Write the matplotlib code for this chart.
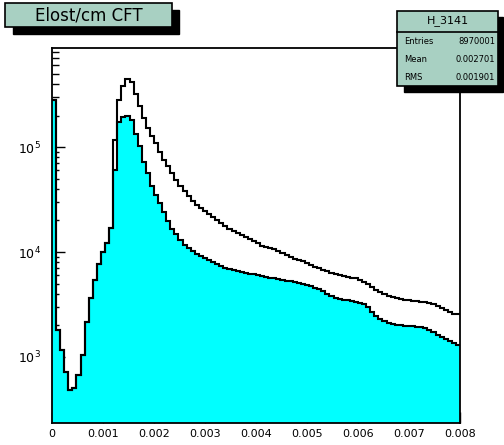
import numpy as np
import matplotlib
matplotlib.use('Agg')
from matplotlib import pyplot as plt
from matplotlib.patches import Rectangle

# histogram content, 100 bins on [0, 0.008]
x_min, x_max, n_bins = 0.0, 0.008, 100

h_all = [
    280000, 1810, 1170, 720, 485, 507, 674, 1045, 2150, 3650,
    5410, 7690, 10000, 12190, 16940, 116600, 280500, 381000, 444600, 415500,
    320000, 245700, 188900, 151700, 127300, 109200, 89600, 75200, 65900, 56500,
    48500, 42500, 38100, 34100, 30600, 28000, 26200, 24550, 23000, 21540,
    20180, 18900, 17700, 16560, 15850, 15170, 14520, 13900, 13300, 12740,
    12190, 11400, 11160, 10920, 10680, 10230, 9780, 9360, 8960, 8570,
    8390, 8200, 7850, 7520, 7200, 7050, 6740, 6590, 6310, 6170,
    6040, 5910, 5780, 5650, 5650, 5410, 5180, 4960, 4640, 4350,
    4160, 3980, 3810, 3720, 3650, 3570, 3490, 3490, 3410, 3410,
    3340, 3340, 3270, 3200, 3060, 2930, 2810, 2690, 2570, 2570,
]

h_cut = [
    280000, 1810, 1170, 720, 485, 507, 674, 1045, 2150, 3650,
    5410, 7690, 10000, 12190, 16940, 60400, 173000, 193000, 197400, 180700,
    133000, 102300, 72000, 56500, 42500, 34900, 29300, 24040, 19730, 16560,
    14830, 13000, 11660, 10920, 10230, 9570, 9160, 8770, 8390, 8030,
    7690, 7360, 7050, 6890, 6740, 6590, 6450, 6310, 6170, 6170,
    6040, 5910, 5780, 5650, 5650, 5530, 5410, 5290, 5290, 5180,
    5070, 4960, 4850, 4750, 4540, 4440, 4250, 3980, 3810, 3650,
    3570, 3490, 3490, 3410, 3340, 3270, 3200, 2990, 2690, 2460,
    2300, 2200, 2110, 2060, 2020, 2020, 1970, 1970, 1970, 1930,
    1930, 1890, 1810, 1730, 1620, 1550, 1480, 1420, 1360, 1300,
]

x_ticks = [0, 0.001, 0.002, 0.003, 0.004, 0.005, 0.006, 0.007, 0.008]
x_labels = ['0', '0.001', '0.002', '0.003', '0.004', '0.005', '0.006', '0.007', '0.008']

title = 'Elost/cm CFT'
stats_name = 'H_3141'
stats_rows = [('Entries', '8970001'), ('Mean', '0.002701'), ('RMS', '0.001901')]

edges = np.linspace(x_min, x_max, n_bins + 1)
box_color = '#a8d0c2'

W, H = 504, 445
fig = plt.figure(figsize=(W / 100, H / 100), dpi=100)
ax = fig.add_axes([52 / W, 1 - 423 / H, (460 - 52) / W, (423 - 48) / H])

ybot = 235
ax.stairs(h_cut, edges, fill=True, color='#00ffff', baseline=ybot, zorder=1)
ax.stairs(h_cut, edges, color='black', lw=1.5, baseline=None, zorder=2)
ax.stairs(h_all, edges, color='black', lw=1.5, baseline=None, zorder=2)

ax.set_yscale('log')
ax.set_xlim(x_min, x_max)
ax.set_ylim(ybot, 8.8e5)
ax.set_axisbelow(True)

ax.set_xticks(x_ticks, x_labels)
ax.tick_params(axis='x', direction='in', length=8, width=1, pad=4, labelsize=8)
ax.tick_params(axis='y', which='major', direction='in', length=9, width=1, pad=8, labelsize=9)
ax.tick_params(axis='y', which='minor', direction='in', length=5, width=1)
for s in ax.spines.values():
    s.set_linewidth(1.3)

# title box with shadow
def box(x0, y0, x1, y1, **kw):
    fig.patches.append(Rectangle((x0 / W, 1 - y1 / H), (x1 - x0) / W, (y1 - y0) / H,
                                 transform=fig.transFigure, figure=fig, **kw))

box(13, 10, 179, 34, facecolor='black', edgecolor='black', zorder=5)
box(5, 3, 172, 27, facecolor=box_color, edgecolor='black', lw=1.2, zorder=6)
fig.text(89 / W, 1 - 15.5 / H, title, ha='center', va='center', fontsize=12,
         fontweight='medium', zorder=7)

# stats box with shadow
box(404, 17, 503, 92, facecolor='black', edgecolor='black', zorder=5)
box(397, 11, 498, 86, facecolor=box_color, edgecolor='black', lw=1.2, zorder=6)
fig.lines.append(plt.Line2D([397 / W, 498 / W], [1 - 32 / H, 1 - 32 / H],
                            transform=fig.transFigure, color='black', lw=1.2, zorder=7))
fig.text(447.5 / W, 1 - 21 / H, stats_name, ha='center', va='center', fontsize=8, zorder=7)
for k, (name, val) in enumerate(stats_rows):
    yy = 1 - (42 + 18 * k) / H
    fig.text(404 / W, yy, name, ha='left', va='center', fontsize=6, zorder=7)
    fig.text(495 / W, yy, val, ha='right', va='center', fontsize=6, zorder=7)

fig.savefig('out.png', dpi=100)
